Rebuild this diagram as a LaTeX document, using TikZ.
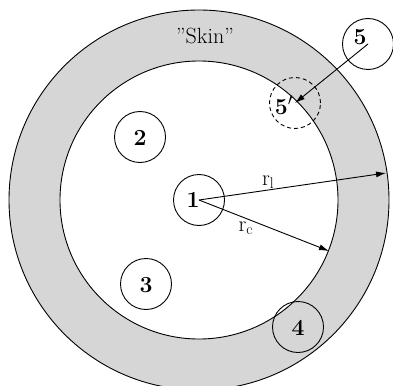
\documentclass[tikz,border=0pt]{standalone}
\usepackage{fontspec}
\usepackage{tikz}
\usetikzlibrary{arrows.meta}
\definecolor{ringgray}{RGB}{214,214,214}
\begin{document}
\begin{tikzpicture}[
    x=1pt, y=-1pt,
    line width=0.9pt,
    font=\fontsize{22}{26}\selectfont,
    body/.style={draw, circle, minimum size=51pt, inner sep=0pt},
    ghost/.style={body, dashed, dash pattern=on 4pt off 3pt},
    num/.style={font=\fontsize{23}{27}\selectfont\bfseries, inner sep=0pt},
    arrow/.style={-{Latex[length=10pt,width=6pt]}}
]
    \useasboundingbox (0,0) rectangle (393,385);
    \clip (0,0) rectangle (393,385);

    % skin ring
    \fill[ringgray, even odd rule] (199,200) circle[radius=190pt] (199,200) circle[radius=139pt];
    \draw (199,200) circle[radius=190pt];
    \draw (199,200) circle[radius=139pt];
    \node (skin) at (205,36) {"Skin"};

    \coordinate (rl) at (386,173);
    \coordinate (rc) at (329,251);

    % bodies
    \node[body] (c1) at (199,200) {};
    \node[num] (t1) at (193,200) {1};
    \node[body] (c2) at (140,137) {};
    \node[num] (t2) at (140,138) {2};
    \node[body] (c3) at (146,284) {};
    \node[num] (t3) at (146,285) {3};
    \node[body] (c4) at (298,327) {};
    \node[num] (t4) at (298,328) {4};
    \node[body] (c5) at (368,44) {};
    \node[num] (t5) at (360,37) {5};
    \node[ghost] (c5p) at (295,103) {};
    \node[num] (t5p) at (284,105) {5$'$};

    \draw[arrow] (c1.center) -- node[pos=0.37, above, inner sep=1pt] {r$_\mathrm{l}$} (rl);
    \draw[arrow] (c1.center) -- node[pos=0.36, below, inner sep=3pt] {r$_\mathrm{c}$} (rc);
    \draw[arrow] (c5.center) -- (c5p.center);
\end{tikzpicture}
\end{document}
